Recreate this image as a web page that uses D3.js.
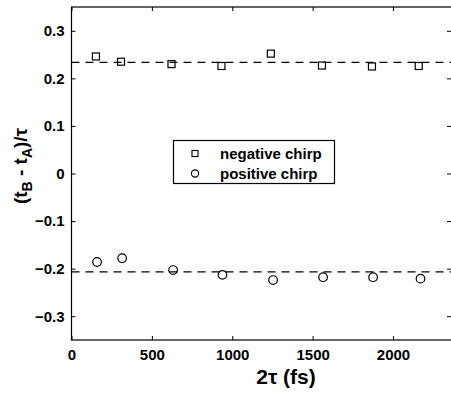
<!DOCTYPE html>
<html><head><meta charset="utf-8">
<script src="https://cdn.jsdelivr.net/npm/d3@7"></script>
<style>body{margin:0;background:#fff;} text{font-family:"Liberation Sans",Arial,sans-serif;}</style>
</head><body>
<svg id="c" width="451" height="403"></svg>
<script>
const negX = [152, 308, 622, 933, 1240, 1558, 1869, 2160];
const negY = [0.246, 0.235, 0.230, 0.226, 0.252, 0.227, 0.225, 0.226];
const posX = [159, 315, 632, 939, 1254, 1565, 1876, 2171];
const posY = [-0.186, -0.178, -0.203, -0.213, -0.224, -0.218, -0.218, -0.221];
const negMean = 0.2335, posMean = -0.207;
const xTicks = [0, 500, 1000, 1500, 2000];
const yTicks = [-0.3, -0.2, -0.1, 0, 0.1, 0.2, 0.3];
const legendLabels = ["negative chirp", "positive chirp"];

const svg = d3.select("#c");
const L = 71.5, R = 452.5, T = 7, B = 340;
const x = d3.scaleLinear().domain([0, 2370]).range([L, R]);
const y = d3.scaleLinear().domain([-0.35, 0.35]).range([B, T]);

// frame
svg.append("rect").attr("x", L).attr("y", T).attr("width", R - L).attr("height", B - T)
  .attr("fill", "none").attr("stroke", "#000").attr("stroke-width", 1.2);

const fmt = d => d === 0 ? "0" : d3.format(".1f")(d);
const xa = svg.append("g").attr("transform", `translate(0,${B})`)
  .call(d3.axisBottom(x).tickValues(xTicks).tickSize(-4).tickPadding(9).tickFormat(d3.format("d")));
const xt = svg.append("g").attr("transform", `translate(0,${T})`)
  .call(d3.axisTop(x).tickValues(xTicks).tickSize(-4).tickFormat(""));
const ya = svg.append("g").attr("transform", `translate(${L},0)`)
  .call(d3.axisLeft(y).tickValues(yTicks).tickSize(-4).tickPadding(7).tickFormat(fmt));
const yr = svg.append("g").attr("transform", `translate(${R - 1.5},0)`)
  .call(d3.axisRight(y).tickValues(yTicks).tickSize(-4).tickFormat(""));
[xa, xt, ya, yr].forEach(g => {
  g.select(".domain").remove();
  g.selectAll("line").attr("stroke", "#000").attr("stroke-width", 1);
  g.selectAll("text").attr("fill", "#000").attr("font-size", 15).attr("font-weight", "bold")
    .attr("font-family", "Liberation Sans, Arial, sans-serif");
});

// mean dashed lines
[negMean, posMean].forEach(m => {
  svg.append("line").attr("x1", L).attr("x2", R).attr("y1", y(m)).attr("y2", y(m))
    .attr("stroke", "#000").attr("stroke-width", 1.2).attr("stroke-dasharray", "8,6");
});

const sq = 7;
svg.append("g").selectAll("rect").data(negX.map((d, i) => [d, negY[i]])).join("rect")
  .attr("x", d => x(d[0]) - sq / 2).attr("y", d => y(d[1]) - sq / 2)
  .attr("width", sq).attr("height", sq).attr("fill", "none").attr("stroke", "#000").attr("stroke-width", 1.2);
svg.append("g").selectAll("circle").data(posX.map((d, i) => [d, posY[i]])).join("circle")
  .attr("cx", d => x(d[0])).attr("cy", d => y(d[1])).attr("r", 4.3)
  .attr("fill", "none").attr("stroke", "#000").attr("stroke-width", 1.2);

// legend
const lg = svg.append("g");
lg.append("rect").attr("x", 173.5).attr("y", 140.5).attr("width", 161).attr("height", 43)
  .attr("fill", "#fff").attr("stroke", "#000").attr("stroke-width", 1.2);
lg.append("rect").attr("x", 195 - 3).attr("y", 153.5 - 3).attr("width", 6).attr("height", 6)
  .attr("fill", "none").attr("stroke", "#000").attr("stroke-width", 1.1);
lg.append("circle").attr("cx", 195).attr("cy", 173.5).attr("r", 3.6)
  .attr("fill", "none").attr("stroke", "#000").attr("stroke-width", 1.1);
legendLabels.forEach((t, i) => {
  lg.append("text").attr("x", 220).attr("y", 158.5 + i * 20).attr("font-size", 15)
    .attr("font-weight", "bold").text(t);
});

// axis labels
svg.append("text").attr("x", 286).attr("y", 384).attr("text-anchor", "middle")
  .attr("font-size", 21).attr("font-weight", "bold").text("2τ (fs)");
const yl = svg.append("text").attr("transform", "translate(27,166) rotate(-90)")
  .attr("text-anchor", "middle").attr("font-size", 19).attr("font-weight", "bold");
yl.append("tspan").text("(t");
yl.append("tspan").attr("font-size", 14).attr("dy", 5).text("B");
yl.append("tspan").attr("dy", -5).text(" - t");
yl.append("tspan").attr("font-size", 14).attr("dy", 5).text("A");
yl.append("tspan").attr("dy", -5).text(")/τ");
</script>
</body></html>
